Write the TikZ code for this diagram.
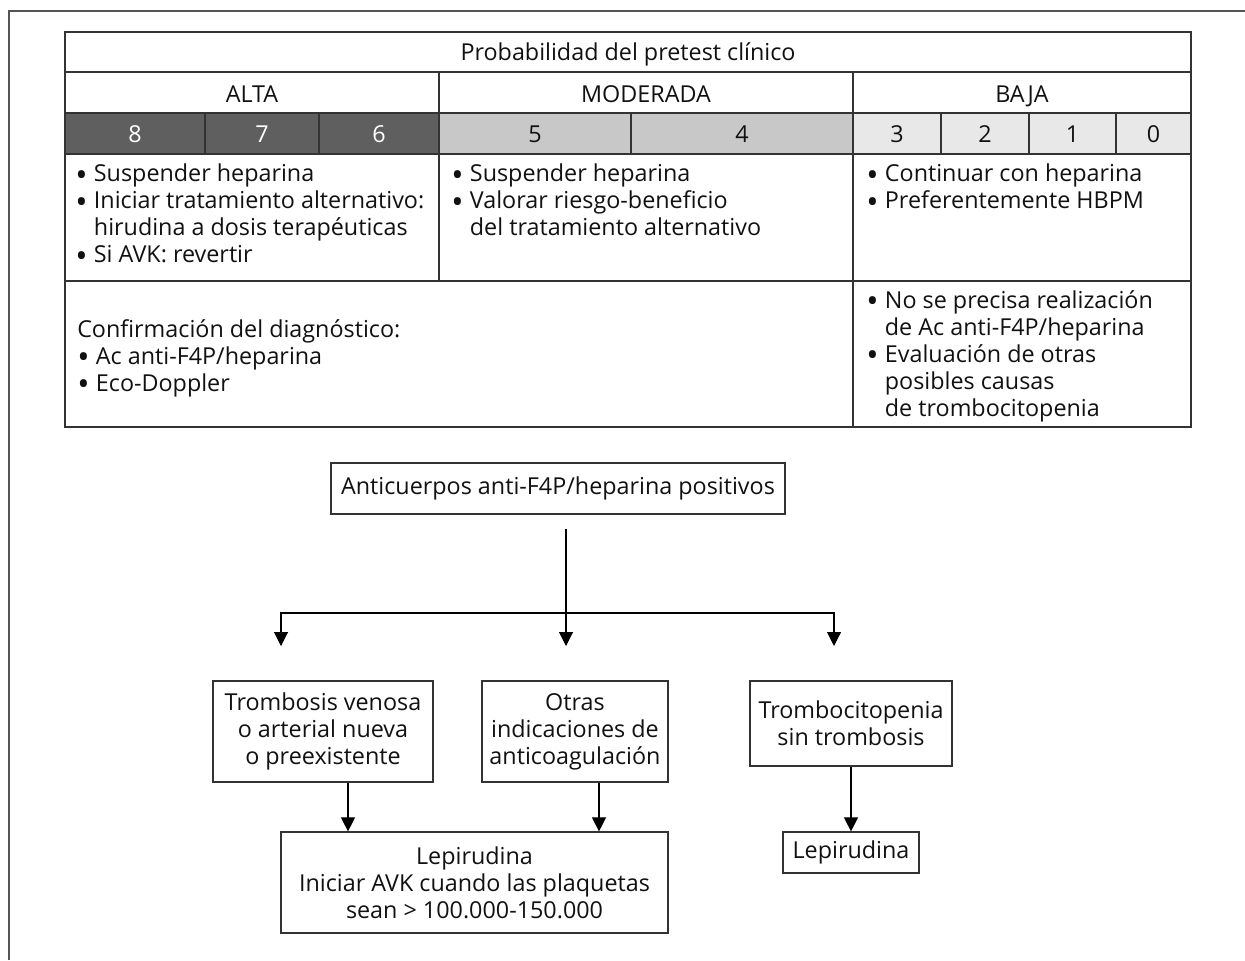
\documentclass[tikz,border=0pt]{standalone}
\usepackage{fontspec}
\setmainfont{Open Sans}
\usetikzlibrary{arrows.meta}
\definecolor{ink}{HTML}{111111}
\definecolor{rule}{HTML}{333333}
\definecolor{altafill}{HTML}{5F5F5F}
\definecolor{modfill}{HTML}{C8C8C8}
\definecolor{bajafill}{HTML}{E8E8E8}
\definecolor{framecol}{HTML}{555555}
% list bullet and hanging indent
\newcommand{\blt}{\makebox[14pt][l]{\raisebox{-0.2em}[0pt][0pt]{\scalebox{1.4}{\textbullet}}}}
\newcommand{\hang}{\hspace*{14pt}}
\begin{document}
\begin{tikzpicture}[x=0.75pt,y=-0.75pt,
  every node/.style={font=\fontsize{17.5}{20.25}\selectfont, text=ink, inner sep=0pt},
  grid/.style={draw=rule, line width=0.9pt},
  head/.style={anchor=base},
  list/.style={anchor=north west, align=left},
  flowbox/.style={draw=rule, line width=0.9pt, align=center},
  link/.style={draw=black, line width=0.8pt},
  arr/.style={link, -{Triangle[width=10.5pt,length=10.5pt]}}
]
\useasboundingbox (0,0) rectangle (1245,960);

% outer frame (top and left edges)
\draw[framecol, line width=1.5pt] (9,960) -- (9,11) -- (1245,11);

% ---------- score table ----------
% shaded score row
\fill[altafill] (65,113) rectangle (439,154);
\fill[modfill] (439,113) rectangle (853,154);
\fill[bajafill] (853,113) rectangle (1191,154);

% horizontal rules
\draw[grid] (65,32) rectangle (1191,427);
\draw[grid] (65,72) -- (1191,72);
\draw[grid] (65,113) -- (1191,113);
\draw[grid] (65,154) -- (1191,154);
\draw[grid] (65,281) -- (1191,281);
% vertical rules
\draw[grid] (439,72) -- (439,281);
\draw[grid] (853,72) -- (853,427);
\foreach \x in {205,319,631,941,1029,1116}
  \draw[grid] (\x,113) -- (\x,154);

% headings
\node[head] (title) at (628,60) {Probabilidad del pretest clínico};
\node[head] (alta) at (252,102) {ALTA};
\node[head] (moderada) at (646,102) {MODERADA};
\node[head] (baja) at (1022,102) {BAJA};

% scores
\node[head, text=white] (s8) at (135,142) {8};
\node[head, text=white] (s7) at (262,142) {7};
\node[head, text=white] (s6) at (379,142) {6};
\node[head] (s5) at (535,142) {5};
\node[head] (s4) at (742,142) {4};
\node[head] (s3) at (897,142) {3};
\node[head] (s2) at (985,142) {2};
\node[head] (s1) at (1072.5,142) {1};
\node[head] (s0) at (1153.5,142) {0};

% recommendations
\node[list] (recalta) at (75,164) {\blt Suspender heparina\\
  \blt Iniciar tratamiento alternativo:\\
  \hang hirudina a dosis terapéuticas\\
  \blt Si AVK: revertir};
\node[list] (recmod) at (451,164) {\blt Suspender heparina\\
  \blt Valorar riesgo-beneficio\\
  \hang del tratamiento alternativo};
\node[list] (recbaja) at (866,164) {\blt Continuar con heparina\\
  \blt Preferentemente HBPM};

% diagnosis row
\node[list] (confirm) at (77,319) {Confirmación del diagnóstico:\\
  \blt Ac anti-F4P/heparina\\
  \blt Eco-Doppler};
\node[list] (nodiag) at (866,290) {\blt No se precisa realización\\
  \hang de Ac anti-F4P/heparina\\
  \blt Evaluación de otras\\
  \hang posibles causas\\
  \hang de trombocitopenia};

% ---------- flow chart ----------
\node[flowbox, minimum width=340.5pt, minimum height=38.25pt] (pos) at (558,488.5)
  {Anticuerpos anti-F4P/heparina positivos};
\node[flowbox, minimum width=165pt, minimum height=75.75pt] (tv) at (323,731.5)
  {Trombosis venosa\\o arterial nueva\\o preexistente};
\node[flowbox, minimum width=139.5pt, minimum height=75.75pt] (oi) at (575,731.5)
  {Otras\\indicaciones de\\anticoagulación};
\node[flowbox, minimum width=151.5pt, minimum height=63.75pt] (tc) at (851,723.5)
  {Trombocitopenia\\sin trombosis};
\node[flowbox, minimum width=290.25pt, minimum height=75.75pt] (lb) at (474.5,882.5)
  {Lepirudina\\Iniciar AVK cuando las plaquetas\\sean > 100.000-150.000};
\node[flowbox, minimum width=102pt, minimum height=30.75pt] (ls) at (851,852.5)
  {Lepirudina};

% branching connector
\coordinate (stem) at (566,529);
\coordinate (fork) at (566,613);
\coordinate (tipL) at (281,646);
\coordinate (tipM) at (566,646);
\coordinate (tipR) at (834,646);
\draw[arr] (stem) -- (tipM);
\draw[arr] (fork) -| (tipL);
\draw[arr] (fork) -| (tipR);

% lower connectors
\draw[arr] (tv.south -| 348,0) -- (lb.north -| 348,0);
\draw[arr] (oi.south -| 599,0) -- (lb.north -| 599,0);
\draw[arr] (tc.south) -- (ls.north);
\end{tikzpicture}
\end{document}
